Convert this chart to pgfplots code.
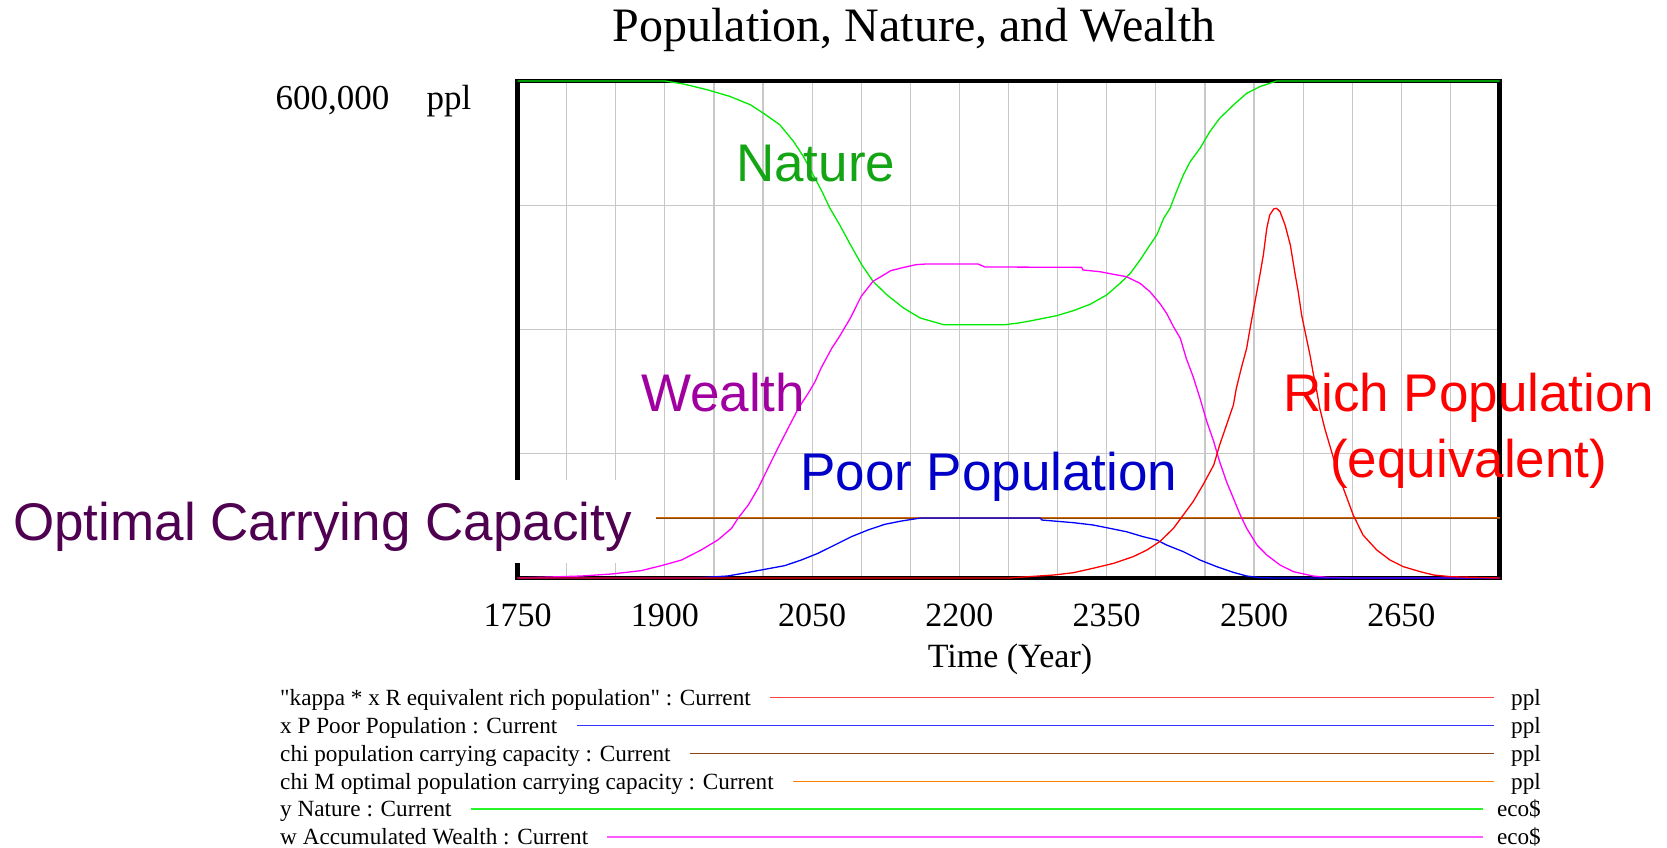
\documentclass[border=0pt]{standalone}
\usepackage{pgfplots}
\pgfplotsset{compat=1.18}
\usepackage{fontspec}
\setmainfont{Liberation Serif}[Ligatures=TeXOff]
\newfontfamily\arial{Liberation Sans}
\definecolor{natureline}{RGB}{0,235,0}
\definecolor{naturelab}{RGB}{20,165,20}
\definecolor{wealthline}{RGB}{255,0,255}
\definecolor{wealthlab}{RGB}{160,0,160}
\definecolor{poorline}{RGB}{0,0,255}
\definecolor{poorlab}{RGB}{0,0,200}
\definecolor{richline}{RGB}{255,0,0}
\definecolor{chiline}{RGB}{140,70,20}
\definecolor{chimline}{RGB}{255,128,0}
\definecolor{optlab}{RGB}{80,0,80}
\definecolor{gridgray}{RGB}{200,200,200}
\definecolor{legred}{RGB}{255,70,70}
\definecolor{legblue}{RGB}{50,50,255}
\definecolor{leggreen}{RGB}{40,245,40}
\definecolor{legmag}{RGB}{255,90,255}

\pgfplotstableread{
x y
1750 600000
1900 600000
1919 596400
1943 589500
1966 581500
1987 571400
2000 561400
2017 547300
2031 527200
2041 509100
2051 486900
2060 466800
2068 446700
2078 426500
2089 402400
2100.5 378200
2112 358200
2126 342000
2143 326000
2160 313900
2184 305800
2246 305800
2260 307800
2272 310300
2299 316700
2316 322700
2333 330400
2350 341700
2363.5 355700
2374 367800
2384 383900
2394 402000
2401 414100
2408 434200
2414.5 446300
2421 466400
2428 486500
2435 502600
2445 518700
2455 538800
2465 554900
2479 571000
2492.5 585100
2506 593200
2523 600000
2750 600000
}\nature

\pgfplotstableread{
x y
1750 0
1815 2400
1845.5 4800
1876 8900
1896.5 14900
1917 21700
1937 33800
1954 45900
1968 60000
1974.5 72000
1985 88100
1995 108300
2005 132400
2015 156500
2025.5 180700
2036 204800
2046 222900
2053 237000
2059 253100
2070 277300
2078 291800
2089 313900
2100 340000
2112 358200
2124 366600
2130 371000
2143 374900
2156 378300
2165 379000
2219 379000
2226 375500
2324.5 375000
2326 371800
2343 369800
2357 366600
2370 363800
2384 355700
2394 345700
2404 331600
2411 319500
2418 303400
2425 289300
2431 265200
2438 243100
2445 216900
2452 188700
2459 164600
2465 140400
2472 116300
2479 96200
2486 76100
2492.5 60000
2503 39800
2513 27800
2526.5 15700
2540 7700
2560 2400
2574 800
2600 0
2750 0
}\wealth

\pgfplotstableread{
x y
1750 0
1930 0
1964 2400
1985 6800
2002 10500
2022 14900
2039 21700
2056 29800
2073 39800
2090 49900
2107 58000
2124 64800
2141 68800
2161 72500
2282 72500
2284 70000
2316 66800
2336 64000
2353 60000
2370 55900
2387 49900
2401 45900
2411 39800
2428 31800
2445 21700
2462 13700
2479 6800
2492.5 2400
2506 400
2520 0
2750 0
}\poor

\pgfplotstableread{
x y
1750 0
2250 0
2296 3600
2316 6400
2336 11700
2357 17700
2377 25800
2391 33800
2404 43900
2418 60000
2428 76100
2438 92200
2448 112300
2459 136400
2465 160600
2472 184700
2479 208900
2482 229000
2487 253100
2492.5 277300
2496 301400
2501 333600
2506 365800
2509.5 389900
2513 422100
2516 438200
2520 445500
2523 446300
2526.5 442300
2531.6 426200
2537 402000
2542 365800
2545 345700
2548.5 317500
2552 297400
2557 269200
2560 249100
2564 225000
2567 204800
2572 180700
2581 144500
2591 108300
2601 76100
2611 51900
2625 33800
2638.5 21700
2652 13700
2669 7700
2683 3600
2700 1600
2750 0
}\rich

\pgfplotstableread{
x y
1750 72500
2750 72500
}\chi

\newcommand{\lab}{\arial\fontsize{53}{60}\selectfont}
\newcommand{\legf}{\fontsize{23.2}{28}\selectfont}

\begin{document}
\begin{tikzpicture}[x=1pt,y=1pt]
\useasboundingbox (0,0) rectangle (1667,847);
\begin{axis}[
  at={(517.5pt,269pt)}, anchor=south west,
  width=982pt, height=497pt, scale only axis,
  xmin=1750, xmax=2750, ymin=0, ymax=600000,
  xtick={1750,1900,...,2650},
  minor xtick={1800,1850,...,2700},
  ytick={150000,300000,450000},
  yticklabels={},
  major tick length=0pt, minor tick length=0pt,
  grid=both,
  major grid style={gridgray, line width=1.2pt},
  minor grid style={gridgray, line width=1.2pt},
  axis line style={black, line width=4.5pt},
  /pgf/number format/assume math mode=true,
  /pgf/number format/1000 sep={},
  xticklabel style={font=\fontsize{34}{40}\selectfont, anchor=base, yshift=-48pt},
  scaled y ticks=false,
  clip=false,
]
\addplot[chiline, line width=1.3pt] table {\chi};
\addplot[chimline, line width=1.0pt, opacity=0.6] table {\chi};
\addplot[natureline, line width=1.3pt] table {\nature};
\addplot[wealthline, line width=1.3pt] table {\wealth};
\addplot[poorline, line width=1.3pt] table {\poor};
\addplot[richline, line width=1.3pt] table {\rich};
\end{axis}

% title and axis texts
\node[anchor=base, font=\fontsize{48}{56}\selectfont] at (914,805) {Population, Nature, and Wealth};
\node[anchor=base, font=\fontsize{34}{40}\selectfont] at (1010,180) {Time (Year)};
\node[anchor=base west, font=\fontsize{35}{40}\selectfont] at (272,737) {600,000};
\node[anchor=base west, font=\fontsize{35}{40}\selectfont] at (423,737) {ppl};

% curve labels
\node[anchor=base west, font=\lab, text=naturelab, inner sep=0pt] at (736,665) {Nature};
\node[anchor=base west, font=\lab, text=wealthlab, inner sep=0pt] at (641,435) {Wealth};
\node[anchor=base west, font=\lab, text=poorlab, inner sep=0pt] at (800,356) {Poor Population};
\node[anchor=base west, font=\lab, text=richline, inner sep=0pt] at (1283,435) {Rich Population};
\node[anchor=base west, font=\lab, text=richline, inner sep=0pt] at (1330,370) {(equivalent)};
\fill[white] (0,284) rectangle (656,367);
\node[anchor=base west, font=\lab, text=optlab, inner sep=0pt] at (13,307) {Optimal Carrying Capacity};

% legend
\node[anchor=base west, font=\legf, inner sep=0pt] (l1) at (280,142) {"kappa * x R equivalent rich population" : Current};
\node[anchor=base west, font=\legf, inner sep=0pt] (l2) at (280,114) {x P Poor Population : Current};
\node[anchor=base west, font=\legf, inner sep=0pt] (l3) at (280,86) {chi population carrying capacity : Current};
\node[anchor=base west, font=\legf, inner sep=0pt] (l4) at (280,58) {chi M optimal population carrying capacity : Current};
\node[anchor=base west, font=\legf, inner sep=0pt] (l5) at (280,30.3) {y Nature : Current};
\node[anchor=base west, font=\legf, inner sep=0pt] (l6) at (280,2.3) {w Accumulated Wealth : Current};
\path (l1.east) ++(19,0) coordinate (s1);
\path (l2.east) ++(19,0) coordinate (s2);
\path (l3.east) ++(19,0) coordinate (s3);
\path (l4.east) ++(19,0) coordinate (s4);
\path (l5.east) ++(19,0) coordinate (s5);
\path (l6.east) ++(19,0) coordinate (s6);
\draw[legred, line width=1.3pt] (s1 |- 0,149.5) -- (1494,149.5);
\draw[legblue, line width=1.3pt] (s2 |- 0,121.5) -- (1494,121.5);
\draw[chiline, line width=1.3pt] (s3 |- 0,93.5) -- (1494,93.5);
\draw[chimline, line width=1.3pt] (s4 |- 0,65.5) -- (1494,65.5);
\draw[leggreen, line width=1.3pt] (s5 |- 0,38) -- (1483,38);
\draw[legmag, line width=1.3pt] (s6 |- 0,10) -- (1483,10);
\node[anchor=base east, font=\legf, inner sep=0pt] at (1541,142) {ppl};
\node[anchor=base east, font=\legf, inner sep=0pt] at (1541,114) {ppl};
\node[anchor=base east, font=\legf, inner sep=0pt] at (1541,86) {ppl};
\node[anchor=base east, font=\legf, inner sep=0pt] at (1541,58) {ppl};
\node[anchor=base east, font=\legf, inner sep=0pt] at (1541,30.3) {eco\$};
\node[anchor=base east, font=\legf, inner sep=0pt] at (1541,2.3) {eco\$};
\end{tikzpicture}
\end{document}
